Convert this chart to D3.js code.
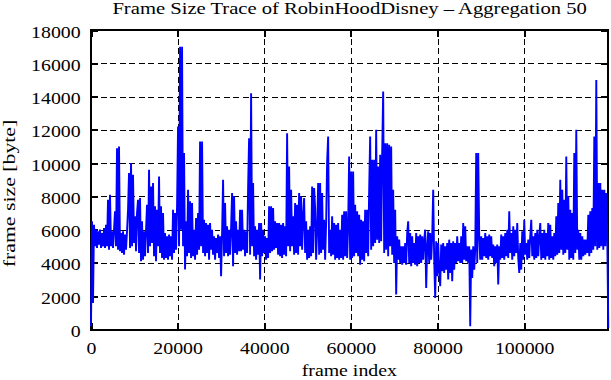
<!DOCTYPE html>
<html><head><meta charset="utf-8">
<script src="https://cdn.jsdelivr.net/npm/d3@7"></script>
<style>body{margin:0;background:#fff} svg{display:block}</style>
</head><body>
<svg id="c" width="611" height="380"></svg>
<script>
// ---------- data ----------
const titleText = "Frame Size Trace of RobinHoodDisney \u2013 Aggregation 50";
const xLabelText = "frame index";
const yLabelText = "frame size [byte]";
const xTickValues = [0, 20000, 40000, 60000, 80000, 100000];
const yTickValues = [0, 2000, 4000, 6000, 8000, 10000, 12000, 14000, 16000, 18000];
const sampleStep = 231; // frame-index distance between plotted samples
// frame sizes [byte] (alternating local highs / lows)
const frameSizes = [
  200, 6500, 1600, 6300, 5000, 6000, 4900, 5900, 5100, 6000,
  4900, 5800, 5000, 6100, 4900, 6300, 5000, 7800, 4800, 8100,
  5000, 5900, 4900, 6000, 7100, 5000, 10900, 4800, 11000, 4700,
  5800, 4600, 5900, 4500, 5700, 4800, 5900, 7200, 9400, 4900,
  10000, 5000, 9300, 5200, 6800, 4700, 7000, 7800, 4600, 7900,
  4100, 6500, 4200, 5900, 4400, 6000, 7500, 4600, 9600, 5000,
  8600, 5200, 8800, 4400, 7400, 4100, 7200, 5000, 9200, 4600,
  7400, 4300, 7000, 4200, 5800, 4300, 5600, 4200, 5700, 4400,
  5600, 4200, 7200, 4600, 7000, 4800, 7400, 12200, 5000, 17000,
  6000, 17000, 5000, 10600, 3600, 6500, 4400, 8400, 4600, 7700,
  4300, 7600, 4400, 6000, 4200, 6700, 4500, 7000, 4800, 11300,
  5000, 11300, 4600, 6600, 4400, 6400, 4600, 6300, 4200, 6400,
  4800, 6000, 4500, 5600, 4200, 5500, 4600, 5700, 4300, 5600,
  3200, 5800, 9000, 4400, 7600, 4600, 6200, 4400, 6000, 4500,
  6100, 8200, 3800, 8000, 4600, 6500, 4500, 6000, 4700, 7200,
  4700, 7200, 4800, 6000, 4400, 5900, 4600, 8500, 11500, 4500,
  14200, 5000, 8800, 4400, 6200, 4200, 6000, 4500, 6400, 3000,
  6400, 4400, 6000, 4600, 5600, 4200, 5500, 4300, 7400, 4600,
  7400, 4700, 7300, 4800, 6500, 4900, 6400, 4500, 6400, 4400,
  6300, 4300, 6400, 4500, 6200, 4400, 11800, 5000, 9800, 4700,
  8400, 5000, 6800, 4500, 7600, 4600, 7500, 4500, 8200, 5000,
  8000, 4800, 6800, 7900, 4600, 6500, 4200, 6000, 4300, 6200,
  4400, 8600, 4600, 8500, 7300, 4200, 6000, 8800, 4500, 8800,
  4600, 8200, 4800, 6600, 4200, 6400, 10100, 11600, 4600, 6000,
  4400, 6800, 4500, 6400, 4200, 6300, 4300, 6400, 4200, 6000,
  4300, 6900, 4200, 7100, 4400, 7100, 4300, 6200, 10400, 4200,
  9500, 4300, 9500, 4400, 7500, 4600, 7100, 4400, 6900, 3900,
  6600, 4200, 6500, 4100, 7200, 4600, 7200, 4400, 8400, 11600,
  4800, 10200, 5000, 10200, 5200, 12000, 5400, 9800, 5200, 10500,
  5300, 10600, 14300, 4600, 11200, 4800, 11200, 4400, 11100, 5000,
  11000, 4500, 8400, 4000, 7200, 2100, 5600, 4200, 5400, 4000,
  5000, 3900, 5000, 4000, 5200, 3900, 5800, 6500, 4000, 5800,
  3800, 5600, 4000, 5200, 3900, 5800, 3800, 5600, 4000, 5700,
  4000, 5600, 4200, 5400, 6000, 2500, 5000, 5900, 4000, 5800,
  4200, 5600, 8400, 4200, 1900, 5300, 3200, 5200, 3600, 2600,
  5100, 3500, 5200, 3400, 5000, 3600, 5200, 3000, 5400, 3400,
  5200, 2900, 5300, 3600, 5200, 4000, 5600, 4100, 5200, 4000,
  5600, 4000, 6400, 4200, 6200, 4100, 5000, 4000, 5000, 200,
  4800, 3100, 5000, 3600, 4800, 10600, 4000, 10600, 5600, 4200,
  5600, 4200, 5500, 4400, 5800, 4300, 5600, 4200, 5700, 4400,
  5600, 4300, 5100, 3800, 5000, 4000, 5100, 2700, 5000, 4200,
  5700, 4300, 5600, 4200, 5800, 4400, 6000, 4300, 7100, 4600,
  5800, 4200, 6200, 4400, 6000, 4600, 6400, 4300, 3400, 5200,
  3600, 5900, 4200, 6600, 4500, 5200, 4200, 5400, 4300, 5600,
  6600, 4400, 5600, 4200, 5800, 4300, 6000, 4400, 5600, 6400,
  4200, 5800, 4300, 6000, 4200, 5800, 4400, 6400, 4200, 6300,
  4300, 5600, 4200, 5800, 4400, 6800, 4500, 7600, 4600, 9000,
  4800, 8400, 4500, 7800, 4600, 10400, 4800, 8000, 4200, 7200,
  4300, 7000, 4200, 10600, 4600, 12000, 4800, 6000, 4200, 5800,
  4200, 5600, 4400, 5400, 4500, 5400, 4600, 6900, 4400, 7100,
  4600, 7300, 4800, 11600, 5000, 15000, 4800, 8800, 4900, 8800,
  5000, 8400, 4800, 8400, 5000, 8200, 5400, 100
];

// ---------- layout ----------
const L = 91, R = 608.3, T = 30, B = 329.5;
const FONT = "'Liberation Serif','Times New Roman',serif";
const SX = 1.24; // horizontal glyph stretch seen in the reference

const svg = d3.select("#c");
const x = d3.scaleLinear().domain([0, (frameSizes.length - 1) * sampleStep]).range([L, R]);
const y = d3.scaleLinear().domain([0, 18000]).range([B, T]);

// grid
const gy = svg.append("g").attr("transform", `translate(${L},0)`)
  .call(d3.axisLeft(y).tickValues(yTickValues.filter(v => v > 0 && v < 18000)).tickSize(-(R - L)).tickFormat(""));
const gx = svg.append("g").attr("transform", `translate(0,${B})`)
  .call(d3.axisBottom(x).tickValues(xTickValues.filter(v => v > 0)).tickSize(-(B - T)).tickFormat(""));
[gy, gx].forEach(g => {
  g.select(".domain").remove();
  g.selectAll("line").attr("stroke", "#000").attr("stroke-width", 1)
    .attr("stroke-dasharray", "6,3.5").attr("shape-rendering", "crispEdges");
});

// inward ticks on all four sides
const tickLen = 7;
const tl = svg.append("g").attr("transform", `translate(${L},0)`).call(d3.axisLeft(y).tickValues(yTickValues).tickSize(-tickLen).tickFormat(""));
const tr = svg.append("g").attr("transform", `translate(${R},0)`).call(d3.axisRight(y).tickValues(yTickValues).tickSize(-tickLen).tickFormat(""));
const tb = svg.append("g").attr("transform", `translate(0,${B})`).call(d3.axisBottom(x).tickValues(xTickValues).tickSize(-tickLen).tickFormat(""));
const tt = svg.append("g").attr("transform", `translate(0,${T})`).call(d3.axisTop(x).tickValues(xTickValues).tickSize(-tickLen).tickFormat(""));
[tl, tr, tb, tt].forEach(g => {
  g.select(".domain").remove();
  g.selectAll("line").attr("stroke", "#000").attr("stroke-width", 2).attr("shape-rendering", "crispEdges");
});

// frame
svg.append("rect").attr("x", L).attr("y", T).attr("width", R - L).attr("height", B - T)
  .attr("fill", "none").attr("stroke", "#000").attr("stroke-width", 2).attr("shape-rendering", "crispEdges");

// data line (drawn over the frame, as in the reference)
const line = d3.line().x((d, i) => x(i * sampleStep)).y(d => y(d));
svg.append("path").datum(frameSizes)
  .attr("d", line).attr("fill", "none").attr("stroke", "#0000ff")
  .attr("stroke-width", 1.9).attr("stroke-linejoin", "bevel");

// tick labels
const ly = svg.append("g").attr("transform", `translate(${L},0)`)
  .call(d3.axisLeft(y).tickValues(yTickValues).tickSize(0).tickFormat(d3.format("d")));
ly.select(".domain").remove();
ly.selectAll("text").attr("x", 0).attr("dy", null).attr("y", 0)
  .attr("transform", `translate(-10.3,7) scale(${SX},1)`)
  .attr("text-anchor", "end").attr("fill", "#000")
  .style("font-family", FONT).style("font-size", "16px");

const lx = svg.append("g").attr("transform", `translate(0,${B})`)
  .call(d3.axisBottom(x).tickValues(xTickValues).tickSize(0).tickFormat(d3.format("d")));
lx.select(".domain").remove();
lx.selectAll("text").attr("y", 0).attr("dy", null)
  .attr("transform", `translate(0,24.5) scale(${SX},1)`)
  .attr("text-anchor", "middle").attr("fill", "#000")
  .style("font-family", FONT).style("font-size", "16px");

// title and axis labels
svg.append("text").text(titleText)
  .attr("transform", `translate(349.6,14) scale(1.25,1)`)
  .attr("text-anchor", "middle").style("font-family", FONT).style("font-size", "16.5px");
svg.append("text").text(xLabelText)
  .attr("transform", `translate(349.3,376) scale(${SX},1)`)
  .attr("text-anchor", "middle").style("font-family", FONT).style("font-size", "16px");
svg.append("text").text(yLabelText)
  .attr("transform", `translate(15,193.5) rotate(-90) scale(1.32,1)`)
  .attr("text-anchor", "middle").style("font-family", FONT).style("font-size", "16.5px");
</script>
</body></html>
